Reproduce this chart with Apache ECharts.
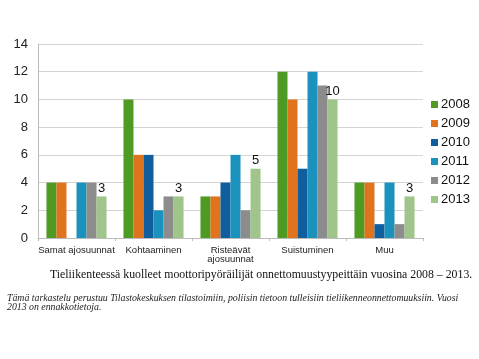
<!DOCTYPE html>
<html><head><meta charset="utf-8">
<script src="https://cdn.jsdelivr.net/npm/echarts@6/dist/echarts.min.js"></script>
<style>html,body{margin:0;padding:0;background:#fff}#c{width:479px;height:359px}</style>
</head><body><div id="c"></div>
<script>
const categories = ['Samat ajosuunnat', 'Kohtaaminen', 'Risteävät\najosuunnat', 'Suistuminen', 'Muu'];
const years = ['2008', '2009', '2010', '2011', '2012', '2013'];
const v2008 = [4, 10, 3, 12, 4];
const v2009 = [4, 6, 3, 10, 4];
const v2010 = [0, 6, 4, 5, 1];
const v2011 = [4, 2, 6, 12, 4];
const v2012 = [4, 3, 2, 11, 1];
const v2013 = [3, 3, 5, 10, 3];
const colors = ['#4e9a22', '#e0731d', '#115e9e', '#1a92bd', '#8c8c8c', '#9fc58a'];
const seriesData = [v2008, v2009, v2010, v2011, v2012, v2013];

const chart = echarts.init(document.getElementById('c'));
chart.setOption({
  animation: false,
  color: colors,
  title: [
    { text: 'Tieliikenteessä kuolleet moottoripyöräilijät onnettomuustyypeittäin vuosina 2008 – 2013.',
      left: 50, top: 269, padding: 0,
      textStyle: { fontFamily: 'Liberation Serif', fontSize: 11.8, fontWeight: 'normal', color: '#111' } },
    { text: 'Tämä tarkastelu perustuu Tilastokeskuksen tilastoimiin, poliisin tietoon tulleisiin tieliikenneonnettomuuksiin. Vuosi\n2013 on ennakkotietoja.',
      left: 7, top: 294, padding: 0,
      textStyle: { fontFamily: 'Liberation Serif', fontSize: 9.8, fontStyle: 'italic', fontWeight: 'normal', color: '#222', lineHeight: 9 } }
  ],
  legend: {
    orient: 'vertical', left: 426, top: 93,
    itemWidth: 7, itemHeight: 7, itemGap: 6,
    icon: 'rect',
    textStyle: { fontFamily: 'Liberation Sans', fontSize: 13, color: '#111', padding: [0, 0, 0, -2] },
    data: years
  },
  grid: { left: 38, right: 56, top: 44, bottom: 121, containLabel: false },
  xAxis: {
    type: 'category', data: categories,
    axisLine: { lineStyle: { color: '#bbb' } },
    axisTick: { show: true, length: 3, lineStyle: { color: '#bbb' } },
    axisLabel: { fontFamily: 'Liberation Sans', fontSize: 9.5, color: '#222', margin: 8, lineHeight: 9, interval: 0 }
  },
  yAxis: {
    type: 'value', min: 0, max: 14, interval: 2,
    axisLine: { show: true, lineStyle: { color: '#bbb' } },
    splitLine: { lineStyle: { color: '#d4d4d4' } },
    axisLabel: { fontFamily: 'Liberation Sans', fontSize: 13, color: '#222', margin: 10 }
  },
  series: years.map((y, i) => ({
    name: y, type: 'bar', data: seriesData[i],
    barGap: '0%', barCategoryGap: '22%',
    label: i === 5 ? { show: true, position: 'top', distance: 2, fontFamily: 'Liberation Sans', fontSize: 13, color: '#111' } : { show: false }
  }))
});
</script></body></html>
